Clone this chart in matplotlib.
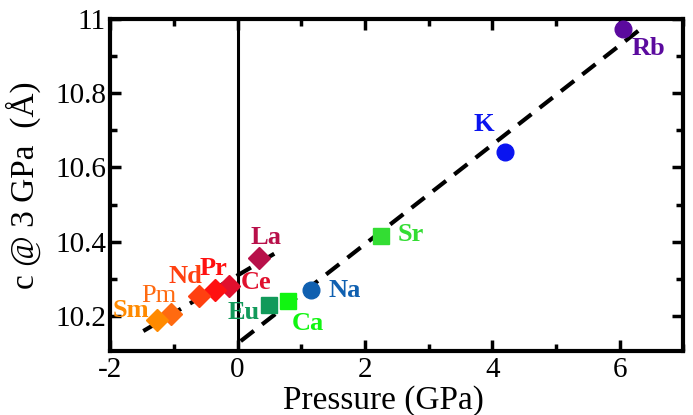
import numpy as np
import matplotlib
matplotlib.use('Agg')
import matplotlib.pyplot as plt
from matplotlib.ticker import MultipleLocator

plt.rcParams['font.family'] = ['Liberation Serif', 'DejaVu Serif']

# element, pressure (GPa), c (A), marker, colour
elements = ['Rb', 'K', 'Na', 'Sr', 'Ca', 'Eu', 'La', 'Ce', 'Pr', 'Nd', 'Pm', 'Sm']
pressure = [6.06, 4.20, 1.15, 2.25, 0.80, 0.49, 0.33, -0.14, -0.35, -0.61, -1.05, -1.26]
c_axis = [10.973, 10.643, 10.270, 10.416, 10.240, 10.228, 10.357, 10.281, 10.270, 10.254, 10.205, 10.190]
markers = ['o', 'o', 'o', 's', 's', 's', 'D', 'D', 'D', 'D', 'D', 'D']
colors = ['#5b0a9e', '#0a14f0', '#1060b0', '#33dd33', '#11f511', '#119a5a',
          '#b8104a', '#e0102e', '#ff1010', '#ff4010', '#ff6a10', '#ff8a00']
label_x = [6.45, 3.87, 1.68, 2.72, 1.10, 0.10, 0.44, 0.29, -0.38, -0.82, -1.24, -1.67]
label_y = [10.922, 10.716, 10.268, 10.42, 10.18, 10.208, 10.41, 10.29, 10.327, 10.305, 10.254, 10.214]
label_weight = ['bold'] * 10 + ['normal', 'bold']

# dashed guide lines (end points)
fit_alk_x = [0.05, 6.35]
fit_alk_y = [10.132, 10.976]
fit_rare_x = [-1.48, 0.71]
fit_rare_y = [10.159, 10.381]

fig = plt.figure(figsize=(6.93, 4.15), dpi=100)
ax = fig.add_axes([0.159, 0.154, 0.827, 0.800])

ax.axvline(0, color='black', lw=2.2, zorder=1)
ax.plot(fit_alk_x, fit_alk_y, color='black', lw=3, dashes=(4, 2.5), zorder=2)
ax.plot(fit_rare_x, fit_rare_y, color='black', lw=3, dashes=(4, 2.5), zorder=2)

for i in range(len(elements)):
    if markers[i] == 'D':
        ms = 11
    elif markers[i] == 's':
        ms = 11.5
    else:
        ms = 12
    ax.plot(pressure[i], c_axis[i], marker=markers[i], color=colors[i],
            ms=ms, ls='none', zorder=3)
    ax.text(label_x[i], label_y[i], elements[i], color=colors[i], fontsize=19,
            fontweight=label_weight[i], ha='center', va='center', zorder=4)

ax.set_xlim(-2, 7)
ax.set_ylim(10.105, 11.0)
ax.xaxis.set_minor_locator(MultipleLocator(1))
ax.yaxis.set_minor_locator(MultipleLocator(0.1))
ax.set_xticks([-2, 0, 2, 4, 6])
ax.set_xticklabels(['-2', '0', '2', '4', '6'])
ax.set_yticks([10.2, 10.4, 10.6, 10.8, 11.0])
ax.set_yticklabels(['10.2', '10.4', '10.6', '10.8', '11'])

ax.tick_params(which='both', direction='in', top=True, right=True, width=2.5, labelsize=21)
ax.tick_params(axis='y', pad=3)
ax.tick_params(axis='x', pad=4)
ax.tick_params(which='major', length=8)
ax.tick_params(which='minor', length=5)
for s in ax.spines.values():
    s.set_linewidth(3)

ax.set_xlabel('Pressure (GPa)', fontsize=24)
ax.xaxis.set_label_coords(0.476, -0.102)
ax.set_ylabel('c @ 3 GPa  (Å)', fontsize=24, labelpad=10)

fig.savefig('out.png', dpi=100)
